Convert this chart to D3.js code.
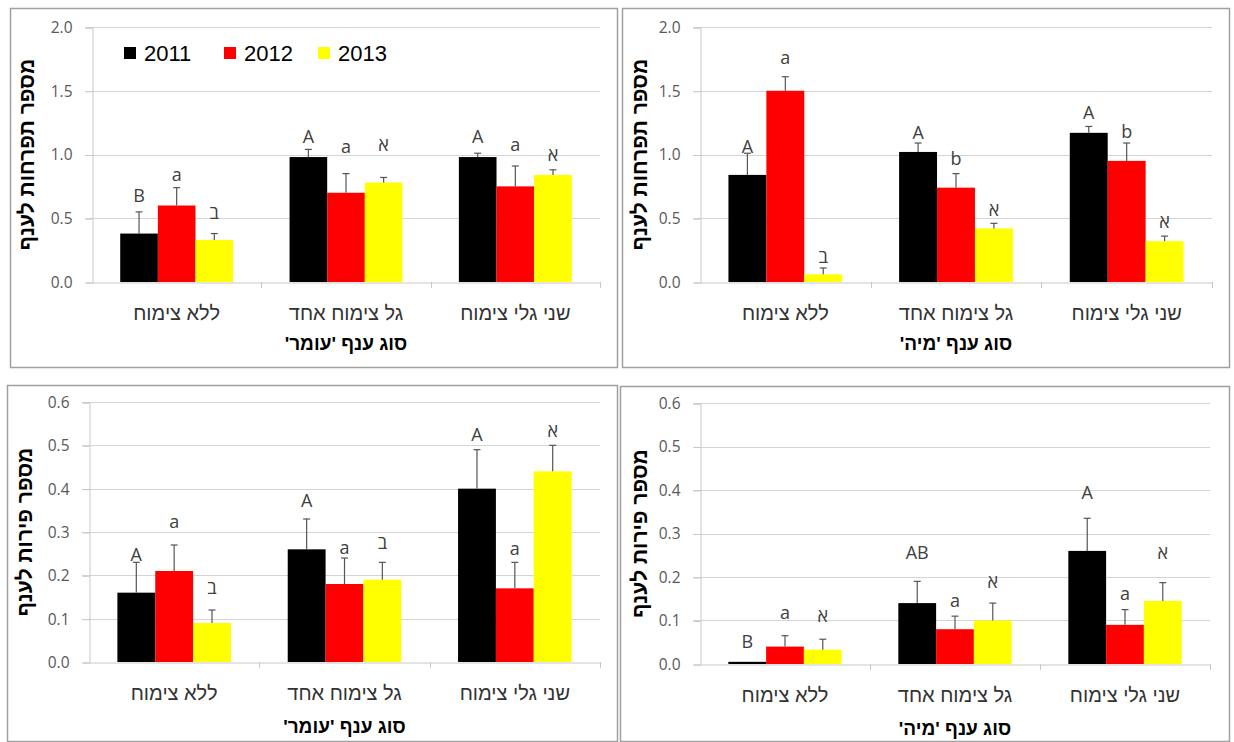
<!DOCTYPE html>
<html>
<head>
<meta charset="utf-8">
<script src="https://cdn.jsdelivr.net/npm/d3@7"></script>
<style>
  html, body { margin: 0; padding: 0; background: #ffffff; }
  svg { display: block; }
</style>
</head>
<body>
<svg id="chart" width="1234" height="742"></svg>
<script>
// ---------------- DATA ----------------
const categories = ["ללא צימוח", "גל צימוח אחד", "שני גלי צימוח"];
const years = ["2011", "2012", "2013"];
const colors = ["#000000", "#ff0000", "#ffff00"];

const yTitleInflorescence = "מספר תפרחות לענף";
const yTitleFruits = "מספר פירות לענף";
const xTitleOmer = "סוג ענף 'עומר'";
const xTitleMaya = "סוג ענף 'מיה'";

const ticksTop = [0.0, 0.5, 1.0, 1.5, 2.0];
const ticksBottom = [0.0, 0.1, 0.2, 0.3, 0.4, 0.5, 0.6];

// Panel 1: inflorescences per branch, 'Omer'
const omerInfl2011 = [0.38, 0.98, 0.98];
const omerInfl2012 = [0.60, 0.70, 0.75];
const omerInfl2013 = [0.33, 0.78, 0.84];
const omerInflErr2011 = [0.17, 0.06, 0.03];
const omerInflErr2012 = [0.14, 0.15, 0.16];
const omerInflErr2013 = [0.05, 0.04, 0.04];
const omerInflLetters2011 = ["B", "A", "A"];
const omerInflLetters2012 = ["a", "a", "a"];
const omerInflLetters2013 = ["ב", "א", "א"];
const omerInflLetterAt2011 = [0.68, 1.14, 1.14];
const omerInflLetterAt2012 = [0.84, 1.06, 1.08];
const omerInflLetterAt2013 = [0.54, 1.08, 1.00];

// Panel 2: inflorescences per branch, 'Maya'
const mayaInfl2011 = [0.84, 1.02, 1.17];
const mayaInfl2012 = [1.50, 0.74, 0.95];
const mayaInfl2013 = [0.06, 0.42, 0.32];
const mayaInflErr2011 = [0.17, 0.07, 0.05];
const mayaInflErr2012 = [0.11, 0.11, 0.14];
const mayaInflErr2013 = [0.05, 0.04, 0.04];
const mayaInflLetters2011 = ["A", "A", "A"];
const mayaInflLetters2012 = ["a", "b", "b"];
const mayaInflLetters2013 = ["ב", "א", "א"];
const mayaInflLetterAt2011 = [1.06, 1.17, 1.33];
const mayaInflLetterAt2012 = [1.76, 0.97, 1.18];
const mayaInflLetterAt2013 = [0.20, 0.57, 0.47];

// Panel 3: fruits per branch, 'Omer'
const omerFruit2011 = [0.16, 0.26, 0.40];
const omerFruit2012 = [0.21, 0.18, 0.17];
const omerFruit2013 = [0.09, 0.19, 0.44];
const omerFruitErr2011 = [0.07, 0.07, 0.09];
const omerFruitErr2012 = [0.06, 0.06, 0.06];
const omerFruitErr2013 = [0.03, 0.04, 0.06];
const omerFruitLetters2011 = ["A", "A", "A"];
const omerFruitLetters2012 = ["a", "a", "a"];
const omerFruitLetters2013 = ["ב", "ב", "א"];
const omerFruitLetterAt2011 = [0.247, 0.372, 0.524];
const omerFruitLetterAt2012 = [0.323, 0.263, 0.261];
const omerFruitLetterAt2013 = [0.171, 0.275, 0.533];

// Panel 4: fruits per branch, 'Maya'
const mayaFruit2011 = [0.005, 0.14, 0.26];
const mayaFruit2012 = [0.04, 0.08, 0.09];
const mayaFruit2013 = [0.033, 0.10, 0.145];
const mayaFruitErr2011 = [0.0, 0.05, 0.075];
const mayaFruitErr2012 = [0.025, 0.03, 0.035];
const mayaFruitErr2013 = [0.024, 0.04, 0.042];
const mayaFruitLetters2011 = ["B", "AB", "A"];
const mayaFruitLetters2012 = ["a", "a", "a"];
const mayaFruitLetters2013 = ["א", "א", "א"];
const mayaFruitLetterAt2011 = [0.051, 0.257, 0.393];
const mayaFruitLetterAt2012 = [0.117, 0.145, 0.161];
const mayaFruitLetterAt2013 = [0.110, 0.189, 0.255];

// ---------------- PANEL TABLE ----------------
const panels = [
  { values: [omerInfl2011, omerInfl2012, omerInfl2013],
    errs: [omerInflErr2011, omerInflErr2012, omerInflErr2013],
    letters: [omerInflLetters2011, omerInflLetters2012, omerInflLetters2013],
    letterAt: [omerInflLetterAt2011, omerInflLetterAt2012, omerInflLetterAt2013],
    ticks: ticksTop, yTitle: yTitleInflorescence, xTitle: xTitleOmer, legend: true,
    box: [10, 8, 617, 367], plot: [92, 27, 600, 282], yTitleX: 27, catY: 313, titleY: 343 },
  { values: [mayaInfl2011, mayaInfl2012, mayaInfl2013],
    errs: [mayaInflErr2011, mayaInflErr2012, mayaInflErr2013],
    letters: [mayaInflLetters2011, mayaInflLetters2012, mayaInflLetters2013],
    letterAt: [mayaInflLetterAt2011, mayaInflLetterAt2012, mayaInflLetterAt2013],
    ticks: ticksTop, yTitle: yTitleInflorescence, xTitle: xTitleMaya, legend: false,
    box: [622, 8, 1229, 367], plot: [700, 27, 1212, 282], yTitleX: 640, catY: 313, titleY: 343 },
  { values: [omerFruit2011, omerFruit2012, omerFruit2013],
    errs: [omerFruitErr2011, omerFruitErr2012, omerFruitErr2013],
    letters: [omerFruitLetters2011, omerFruitLetters2012, omerFruitLetters2013],
    letterAt: [omerFruitLetterAt2011, omerFruitLetterAt2012, omerFruitLetterAt2013],
    ticks: ticksBottom, yTitle: yTitleFruits, xTitle: xTitleOmer, legend: false,
    box: [7, 385, 617, 741], plot: [89, 402, 600, 662], yTitleX: 25, catY: 693, titleY: 726 },
  { values: [mayaFruit2011, mayaFruit2012, mayaFruit2013],
    errs: [mayaFruitErr2011, mayaFruitErr2012, mayaFruitErr2013],
    letters: [mayaFruitLetters2011, mayaFruitLetters2012, mayaFruitLetters2013],
    letterAt: [mayaFruitLetterAt2011, mayaFruitLetterAt2012, mayaFruitLetterAt2013],
    ticks: ticksBottom, yTitle: yTitleFruits, xTitle: xTitleMaya, legend: false,
    box: [620, 386, 1229, 741], plot: [700, 403, 1210, 664], yTitleX: 640, catY: 695, titleY: 728 }
];

const svg = d3.select("#chart");
const numFont = "'Open Sans', 'Liberation Sans', sans-serif";
const hebFont = "'Liberation Sans', 'DejaVu Sans', sans-serif";

panels.forEach(p => {
  const [bx0, by0, bx1, by1] = p.box;
  const [px0, py0, px1, py1] = p.plot;
  const g = svg.append("g");

  // panel border
  g.append("rect")
    .attr("x", bx0 + 0.5).attr("y", by0 + 0.5)
    .attr("width", bx1 - bx0).attr("height", by1 - by0)
    .attr("fill", "#ffffff").attr("stroke", "#a0a0a0").attr("stroke-width", 1.5);

  const ymax = d3.max(p.ticks);
  const y = d3.scaleLinear().domain([0, ymax]).range([py1, py0]);
  const x0 = d3.scaleBand().domain(categories).range([px0, px1]).padding(0);
  const W = x0.bandwidth();
  const barW = W / 4.5;
  const x1 = d3.scaleBand().domain(years)
    .range([(W - 3 * barW) / 2, (W + 3 * barW) / 2]).padding(0);

  // gridlines
  g.append("g").selectAll("line").data(p.ticks.filter(t => t > 0)).join("line")
    .attr("x1", px0 - 7).attr("x2", px1)
    .attr("y1", d => Math.round(y(d)) + 0.5).attr("y2", d => Math.round(y(d)) + 0.5)
    .attr("stroke", "#d4d4d4").attr("stroke-width", 1);

  // y axis via d3
  const yAxis = d3.axisLeft(y).tickValues(p.ticks).tickFormat(d3.format(".1f"))
    .tickSize(7).tickPadding(13);
  const ya = g.append("g").attr("transform", `translate(${px0 + 0.5},0.5)`).call(yAxis);
  ya.select(".domain").attr("stroke", "#c8c8c8");
  ya.selectAll(".tick line").attr("stroke", "#c8c8c8");
  ya.selectAll(".tick text").attr("fill", "#595959")
    .style("font-family", numFont).style("font-size", "15.5px");

  // x axis baseline and category separators
  const xAxis = d3.axisBottom(x0).tickSize(0).tickFormat("");
  const xa = g.append("g").attr("transform", `translate(0,${Math.round(y(0)) + 0.5})`).call(xAxis);
  xa.select(".domain").attr("stroke", "#c8c8c8");
  xa.selectAll(".tick").remove();
  g.append("g").selectAll("line").data(categories).join("line")
    .attr("x1", d => Math.round(x0(d) + W) + 0.5).attr("x2", d => Math.round(x0(d) + W) + 0.5)
    .attr("y1", y(0)).attr("y2", y(0) + 6)
    .attr("stroke", "#c8c8c8");

  // bars
  years.forEach((yr, i) => {
    const rows = categories.map((c, j) => ({
      cat: c, v: p.values[i][j], e: p.errs[i][j],
      L: p.letters[i][j], la: p.letterAt[i][j]
    }));
    g.append("g").selectAll("rect").data(rows).join("rect")
      .attr("x", d => x0(d.cat) + x1(yr))
      .attr("y", d => y(d.v))
      .attr("width", x1.bandwidth())
      .attr("height", d => y(0) - y(d.v))
      .attr("fill", colors[i]);

    // error bars (upper only)
    const eg = g.append("g").attr("stroke", "#555555").attr("stroke-width", 1.2);
    rows.filter(d => d.e > 0).forEach(d => {
      const cx = x0(d.cat) + x1(yr) + x1.bandwidth() / 2;
      eg.append("line").attr("x1", cx).attr("x2", cx)
        .attr("y1", y(d.v)).attr("y2", y(d.v + d.e));
      eg.append("line").attr("x1", cx - 3.5).attr("x2", cx + 3.5)
        .attr("y1", y(d.v + d.e)).attr("y2", y(d.v + d.e));
    });

    // significance letters
    g.append("g").selectAll("text").data(rows).join("text")
      .attr("x", d => x0(d.cat) + x1(yr) + x1.bandwidth() / 2)
      .attr("y", d => y(d.la))
      .attr("dy", "0.35em")
      .attr("text-anchor", "middle")
      .attr("fill", "#404040")
      .style("font-family", numFont).style("font-size", "18px")
      .text(d => d.L);
  });

  // category labels
  g.append("g").selectAll("text").data(categories).join("text")
    .attr("x", d => x0(d) + W / 2).attr("y", p.catY)
    .attr("dy", "0.35em").attr("text-anchor", "middle")
    .attr("direction", "rtl")
    .attr("fill", "#333333")
    .style("font-family", hebFont).style("font-size", "20px")
    .text(d => d);

  // x title
  g.append("text")
    .attr("x", (px0 + px1) / 2).attr("y", p.titleY)
    .attr("dy", "0.35em").attr("text-anchor", "middle")
    .attr("direction", "rtl")
    .attr("fill", "#000000").attr("font-weight", "bold")
    .style("font-family", hebFont).style("font-size", "19px")
    .text(p.xTitle);

  // y title
  g.append("text")
    .attr("transform", `translate(${p.yTitleX},${(py0 + py1) / 2}) rotate(-90)`)
    .attr("dy", "0.35em").attr("text-anchor", "middle")
    .attr("direction", "rtl")
    .attr("fill", "#000000").attr("font-weight", "bold")
    .style("font-family", hebFont).style("font-size", "21px")
    .text(p.yTitle);

  // legend
  if (p.legend) {
    const legX = [124, 224, 318];
    const lg = g.append("g");
    years.forEach((yr, i) => {
      lg.append("rect").attr("x", legX[i]).attr("y", 47).attr("width", 12).attr("height", 12)
        .attr("fill", colors[i]);
      lg.append("text").attr("x", legX[i] + 20).attr("y", 53).attr("dy", "0.35em")
        .attr("fill", "#000000")
        .style("font-family", hebFont).style("font-size", "22px")
        .text(yr);
    });
  }
});
</script>
</body>
</html>
